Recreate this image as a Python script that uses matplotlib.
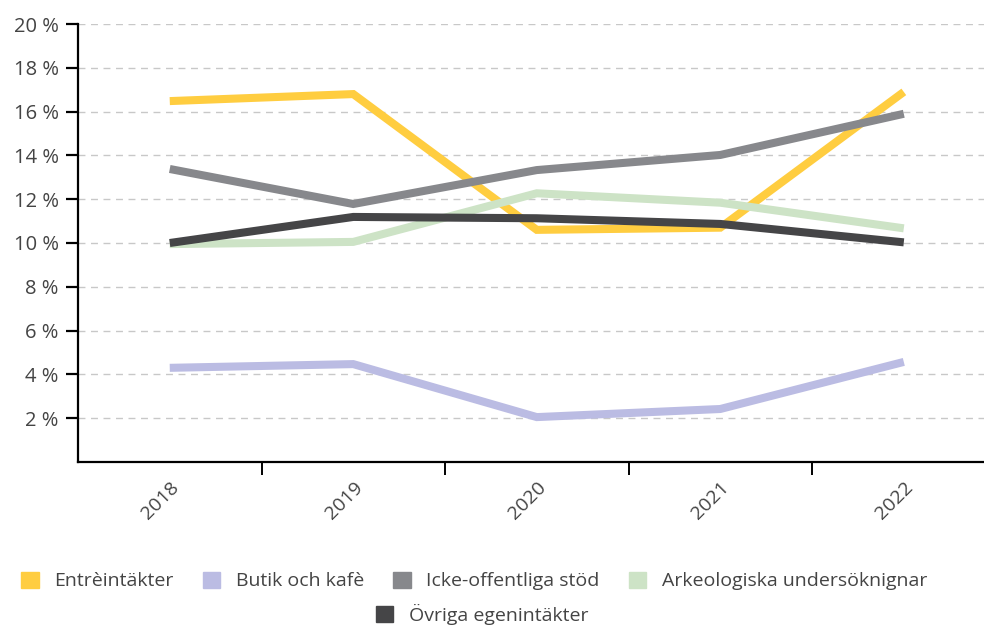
import matplotlib.pyplot as plt
from matplotlib.patches import Patch
import numpy as np

plt.rcParams['font.family'] = ['Open Sans', 'DejaVu Sans']

years = ['2018', '2019', '2020', '2021', '2022']
entre = [16.48, 16.8, 10.6, 10.7, 16.9]
butik = [4.3, 4.47, 2.05, 2.42, 4.57]
icke_off = [13.38, 11.78, 13.33, 14.02, 15.9]
arkeologi = [9.95, 10.05, 12.27, 11.84, 10.67]
ovriga = [10.0, 11.19, 11.13, 10.87, 10.03]

names = ['Entrèintäkter', 'Butik och kafè', 'Icke-offentliga stöd',
         'Arkeologiska undersöknignar', 'Övriga egenintäkter']
colors = ['#FFCD40', '#BBBCE3', '#87888C', '#CDE3C6', '#454547']
series = [entre, butik, icke_off, arkeologi, ovriga]

text_col = '#444444'

fig = plt.figure(figsize=(9.84, 6.26), dpi=100)
ax = fig.add_axes([78 / 984, 164 / 626, 1 - 78 / 984, 438 / 626])

x = np.arange(len(years))
for vals, c in zip(series, colors):
    ax.plot(x, vals, color=c, lw=5.8, solid_capstyle='butt', solid_joinstyle='miter')

ax.set_xlim(-0.5, 4.437)
ax.set_ylim(0, 20)

yt = np.arange(2, 21, 2)
ax.set_yticks(yt)
ax.set_yticklabels([f'{v} %' for v in yt], fontsize=14.5, color=text_col)
ax.tick_params(axis='y', length=9, width=1.6, pad=5)
for v in yt:
    ax.axhline(v, color='#c8c8c8', lw=1, ls=(0, (5, 4)), zorder=0)

ax.set_xticks(x)
ax.set_xticklabels(years, rotation=45, ha='right', rotation_mode='anchor',
                   fontsize=14, color=text_col)
ax.tick_params(axis='x', length=0, pad=12)
ax.set_xticks(x[:-1] + 0.5, minor=True)
ax.tick_params(axis='x', which='minor', length=9, width=1.4)

for s in ['top', 'right']:
    ax.spines[s].set_visible(False)
ax.spines['left'].set_linewidth(1.6)
ax.spines['bottom'].set_linewidth(1.6)

handles = [Patch(color=c) for c in colors]
leg_kw = dict(frameon=False, fontsize=14, handlelength=0.9, handleheight=0.9,
              handletextpad=0.8, columnspacing=1.5, labelcolor=text_col)
fig.legend(handles[:4], names[:4], loc='center', ncol=4,
           bbox_to_anchor=(0.482, 1 - 581 / 626), **leg_kw)
fig.legend(handles[4:], names[4:], loc='center', ncol=1,
           bbox_to_anchor=(0.49, 1 - 614 / 626), **leg_kw)

fig.savefig('out.png', dpi=100)
